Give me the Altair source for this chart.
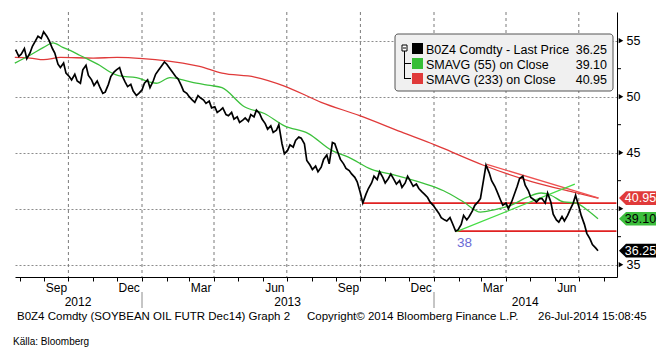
import altair as alt
import pandas as pd

FONT = "Liberation Sans"

# ---------------- data ----------------
# Friday closes 2012-07-27 .. 2014-07-25
fri_dates = [d.strftime("%Y-%m-%d") for d in pd.date_range("2012-07-27", "2014-07-25", freq="7D")]
fri_values = [
    54.2, 53.8, 53.4, 54.5, 55.4, 55.8, 55.0, 53.9, 52.6, 52.1, 51.5, 51.4, 52.4, 51.9,
    51.0, 50.9, 50.4, 51.8, 52.4, 51.9, 50.9, 50.5, 50.3,
    51.2, 50.8, 52.0, 52.7, 52.9, 52.2, 51.6, 50.5, 50.0, 49.5, 49.9, 49.4, 49.0, 48.6,
    49.0, 48.3, 48.0, 47.7, 48.1, 48.4, 48.8, 48.0, 47.1, 46.8, 47.5, 44.9, 45.7, 46.1,
    46.3, 44.3, 43.5, 43.3, 44.4, 44.0, 45.8, 44.4, 43.6, 43.1, 42.4, 40.5, 41.8, 42.9,
    43.3, 42.3, 43.1, 42.2, 41.9, 42.9, 42.0, 41.8, 41.3, 40.6,
    40.0, 39.2, 38.9, 38.7, 38.1, 39.4, 39.3, 40.3, 40.9, 43.9, 42.5, 41.5, 40.3, 40.0,
    41.2, 42.7, 42.1, 41.0, 40.6, 40.9, 41.4, 39.5, 38.8, 38.9, 39.9, 41.2, 39.4, 37.8,
    36.8, 36.25,
]
# Tuesday closes 2012-07-31 .. 2014-07-22
tue_dates = [d.strftime("%Y-%m-%d") for d in pd.date_range("2012-07-31", "2014-07-22", freq="7D")]
tue_values = [
    53.6, 54.3, 53.9, 55.0, 55.2, 55.4, 54.3, 52.9, 53.0, 51.8, 52.0, 51.2, 52.8, 51.5,
    51.4, 50.3, 51.1, 52.2, 52.6, 51.3, 51.1, 50.1, 50.6,
    51.5, 51.4, 52.4, 53.1, 52.5, 51.8, 51.0, 50.3, 49.7, 50.1, 49.7, 49.6, 49.1, 48.8,
    48.4, 48.6, 48.2, 47.9, 47.8, 48.2, 48.5, 47.6, 47.4, 47.0, 45.8, 45.2, 45.5, 46.4,
    45.8, 43.9, 43.8, 43.7, 44.8, 45.9, 45.0, 44.0, 43.4, 42.8, 41.4, 41.3, 42.3, 42.6,
    42.8, 42.7, 42.6, 42.5, 42.3, 42.4, 42.2, 41.5, 41.0, 40.3,
    39.6, 39.0, 39.2, 38.0, 38.6, 39.0, 39.8, 40.6, 42.6, 43.2, 42.0, 40.8, 40.5, 40.6,
    42.0, 42.9, 41.6, 40.8, 40.9, 40.5, 40.6, 39.0, 39.3, 39.4, 40.5, 40.2, 38.6, 37.3,
    36.5,
]

sma55_dates = [
    "2012-07-26", "2012-08-14", "2012-08-31", "2012-09-12", "2012-09-24", "2012-10-07",
    "2012-10-15", "2012-10-24", "2012-11-09", "2012-11-22", "2012-12-04", "2012-12-25",
    "2013-01-11", "2013-01-19", "2013-02-05", "2013-02-21", "2013-03-10", "2013-03-27",
    "2013-04-11", "2013-05-09", "2013-06-03", "2013-06-28", "2013-07-28", "2013-08-26",
    "2013-09-16", "2013-10-15", "2013-11-13", "2013-12-17", "2014-01-13", "2014-02-07",
    "2014-02-28", "2014-03-17", "2014-04-07", "2014-04-27", "2014-05-15", "2014-05-27",
    "2014-06-12", "2014-06-28", "2014-07-11", "2014-07-25",
]
sma55_values = [
    53.0, 53.7, 54.4, 54.8, 54.4, 54.0, 53.7, 53.4, 52.8, 52.2, 51.85, 51.7,
    51.3, 51.2, 51.7, 51.5, 51.2, 51.0, 50.8, 49.1, 48.5, 47.4, 46.7, 45.2,
    44.6, 43.5, 43.0, 42.3, 41.6, 40.6, 39.7, 39.9, 40.3, 41.0, 41.4, 41.2,
    40.6, 40.5, 39.9, 39.10,
]

sma233_dates = [
    "2012-07-26", "2012-08-14", "2012-08-31", "2012-09-21", "2012-11-01", "2012-12-01",
    "2013-01-02", "2013-02-01", "2013-02-21", "2013-03-14", "2013-04-11", "2013-05-22",
    "2013-06-28", "2013-08-13", "2013-09-30", "2013-11-21", "2014-01-02", "2014-01-12",
    "2014-03-03", "2014-05-04", "2014-06-23", "2014-07-25",
]
sma233_values = [
    53.5, 53.45, 53.3, 53.5, 53.45, 53.5, 53.4, 53.2, 53.0, 52.7, 52.1, 51.75,
    50.95, 49.5, 48.3, 46.85, 45.7, 45.4, 43.9, 42.4, 41.5, 40.95,
]

# drawn annotations
red_trend_dates = ["2014-03-08", "2014-07-26"]
red_trend_values = [43.95, 40.95]
green_trend_dates = ["2014-01-29", "2014-06-26"]
green_trend_values = [37.95, 42.2]
hline_starts = ["2013-10-04", "2014-01-28"]
hline_ends = ["2014-08-17", "2014-08-17"]
hline_values = [40.5, 38.0]

grid_dates = ["2012-10-01", "2013-01-01", "2013-04-01", "2013-07-01",
              "2013-10-01", "2014-01-01", "2014-04-01", "2014-07-01"]
month_label_dates = ["2012-09-16", "2012-12-16", "2013-03-16", "2013-06-16",
                     "2013-09-16", "2013-12-16", "2014-03-16", "2014-06-16"]
month_labels = ["Sep", "Dec", "Mar", "Jun", "Sep", "Dec", "Mar", "Jun"]
year_label_dates = ["2012-10-13", "2013-07-02", "2014-04-25"]
year_labels = ["2012", "2013", "2014"]
year_sep_dates = ["2013-01-01", "2014-01-01"]

y_major = [35, 40, 45, 50, 55]
y_minor = [37.5, 42.5, 47.5, 52.5]

legend_names = ["B0Z4 Comdty - Last Price", "SMAVG (55) on Close", "SMAVG (233) on Close"]
legend_values = ["36.25", "39.10", "40.95"]
legend_colors = ["#000000", "#36be36", "#e03a3a"]

tag_values = [40.95, 39.10, 36.25]
tag_fill = ["#e03a3a", "#3cbe3c", "#000000"]
tag_text_color = ["#ffffff", "#000000", "#ffffff"]

# ---------------- scales / axes ----------------
W, H = 602, 265
xscale = alt.Scale(domain=[alt.DateTime(year=2012, month=7, date=26, hours=6),
                           alt.DateTime(year=2014, month=8, date=17, hours=18)])
yscale = alt.Scale(domain=[33.9, 57.56], nice=False, zero=False)

month_ticks = []
for yy in (2012, 2013, 2014):
    for mm in range(1, 13):
        if (yy == 2012 and mm < 8) or (yy == 2014 and mm > 8):
            continue
        month_ticks.append(alt.DateTime(year=yy, month=mm, date=1))

xaxis = alt.Axis(values=month_ticks, labels=False, ticks=True, tickSize=4,
                 tickColor="black", domainColor="black", domainWidth=1,
                 grid=False, title=None)
# the "40" label sits behind the last-value tags in the original
yaxis = alt.Axis(orient="right", values=y_major, grid=True, gridDash=[2, 2],
                 gridColor="#8c8c8c", ticks=False, domainColor="black",
                 labelFont=FONT, labelFontSize=12.5, labelColor="black",
                 labelPadding=9, title=None,
                 labelExpr="datum.value == 40 ? '' : datum.label")


def X(field="date"):
    return alt.X(f"{field}:T", scale=xscale, axis=xaxis, title=None)


def Y(field="value"):
    return alt.Y(f"{field}:Q", scale=yscale, axis=yaxis, title=None)


dummy = pd.DataFrame({"a": [0]})

price_df = pd.concat([
    pd.DataFrame({"date": fri_dates, "value": fri_values}),
    pd.DataFrame({"date": tue_dates, "value": tue_values}),
]).sort_values("date").reset_index(drop=True)
sma55_df = pd.DataFrame({"date": sma55_dates, "value": sma55_values})
sma233_df = pd.DataFrame({"date": sma233_dates, "value": sma233_values})

layers = []

# vertical dotted gridlines
layers.append(alt.Chart(pd.DataFrame({"date": grid_dates})).mark_rule(
    color="#7a7a7a", strokeDash=[3, 3], strokeWidth=1).encode(x=X()))

# horizontal support lines
layers.append(alt.Chart(pd.DataFrame({"date": hline_starts, "end": hline_ends, "value": hline_values}))
              .mark_rule(color="#e02222", strokeWidth=1.6)
              .encode(x=X(), x2=alt.X2("end:T"), y=Y()))

# moving averages
layers.append(alt.Chart(sma233_df).mark_line(color="#e03a3a", strokeWidth=1.3, interpolate="monotone")
              .encode(x=X(), y=Y()))
layers.append(alt.Chart(sma55_df).mark_line(color="#3cc13c", strokeWidth=1.3, interpolate="monotone")
              .encode(x=X(), y=Y()))

# trendlines
layers.append(alt.Chart(pd.DataFrame({"date": red_trend_dates, "value": red_trend_values}))
              .mark_line(color="#ee5050", strokeWidth=1.3).encode(x=X(), y=Y()))
layers.append(alt.Chart(pd.DataFrame({"date": green_trend_dates, "value": green_trend_values}))
              .mark_line(color="#44dd44", strokeWidth=1.3).encode(x=X(), y=Y()))

# price
layers.append(alt.Chart(price_df).mark_line(color="black", strokeWidth=1.7)
              .encode(x=X(), y=Y()))

# "38" label
layers.append(alt.Chart(pd.DataFrame({"date": ["2014-02-08"], "value": [36.94], "t": ["38"]}))
              .mark_text(font=FONT, fontSize=13.5, color="#6b6bd6", baseline="middle")
              .encode(x=X(), y=Y(), text="t:N"))

# right axis minor ticks and arrow ticks
layers.append(alt.Chart(pd.DataFrame({"value": y_minor})).mark_rule(color="black")
              .encode(x=alt.value(W), x2=alt.value(W + 4), y=Y()))
layers.append(alt.Chart(pd.DataFrame({"value": y_major})).mark_point(
    shape="triangle-right", filled=True, size=28, color="black", opacity=1)
    .encode(x=alt.value(W + 4), y=Y()))

# last-value tags
tag_df = pd.DataFrame({"value": tag_values, "fill": tag_fill, "tc": tag_text_color,
                       "label": [f"{v:.2f}" for v in tag_values]})
tag_shape = "M-1,0L-0.62,-0.37L1,-0.37L1,0.37L-0.62,0.37Z"
layers.append(alt.Chart(tag_df).mark_point(shape=tag_shape, size=1369, filled=True,
                                           opacity=1, strokeWidth=0)
              .encode(x=alt.value(W + 20.5), y=Y(), color=alt.Color("fill:N", scale=None)))
layers.append(alt.Chart(tag_df).mark_text(font=FONT, fontSize=12.5, align="center", baseline="middle")
              .encode(x=alt.value(W + 23.5), y=Y(), text="label:N",
                      color=alt.Color("tc:N", scale=None)))

# x labels
layers.append(alt.Chart(pd.DataFrame({"date": month_label_dates, "t": month_labels}))
              .mark_text(font=FONT, fontSize=12, color="black", baseline="middle")
              .encode(x=X(), y=alt.value(H + 10.5), text="t:N"))
layers.append(alt.Chart(pd.DataFrame({"date": year_label_dates, "t": year_labels}))
              .mark_text(font=FONT, fontSize=12, color="black", baseline="middle")
              .encode(x=X(), y=alt.value(H + 25), text="t:N"))
layers.append(alt.Chart(pd.DataFrame({"date": year_sep_dates})).mark_rule(color="#8c8c8c")
              .encode(x=X(), y=alt.value(H + 15), y2=alt.value(H + 31)))

# footer
footer = [("B0Z4 Comdty (SOYBEAN OIL FUTR  Dec14) Graph 2", 2),
          ("Copyright\u00a9 2014 Bloomberg Finance L.P.", 292),
          ("26-Jul-2014 15:08:45", 523)]
for txt, xx in footer:
    layers.append(alt.Chart(dummy).mark_text(font=FONT, fontSize=11.5, color="black",
                                             align="left", baseline="middle")
                  .encode(x=alt.value(xx), y=alt.value(H + 40), text=alt.value(txt)))
layers.append(alt.Chart(dummy).mark_text(font=FONT, fontSize=10, color="black",
                                         align="left", baseline="middle")
              .encode(x=alt.value(-2), y=alt.value(H + 65), text=alt.value("K\u00e4lla: Bloomberg")))

# legend box
layers.append(alt.Chart(dummy).mark_rect(fill="#f0f0f0", stroke="#555555", strokeWidth=1,
                                         cornerRadius=3)
              .encode(x=alt.value(380), x2=alt.value(598), y=alt.value(22), y2=alt.value(79)))
# tree icon
layers.append(alt.Chart(dummy).mark_rule(color="black")
              .encode(x=alt.value(389.5), y=alt.value(39), y2=alt.value(67)))
for yy in (51.5, 66.5):
    layers.append(alt.Chart(dummy).mark_rule(color="black")
                  .encode(x=alt.value(389.5), x2=alt.value(396), y=alt.value(yy)))
layers.append(alt.Chart(dummy).mark_rect(fill="white", stroke="black", strokeWidth=1)
              .encode(x=alt.value(387), x2=alt.value(392), y=alt.value(33), y2=alt.value(39)))
layers.append(alt.Chart(dummy).mark_rule(color="black")
              .encode(x=alt.value(388), x2=alt.value(391), y=alt.value(36)))

for i, (nm, val, col) in enumerate(zip(legend_names, legend_values, legend_colors)):
    cy = 36.5 + 15 * i
    layers.append(alt.Chart(dummy).mark_rect(fill=col)
                  .encode(x=alt.value(397), x2=alt.value(408),
                          y=alt.value(cy - 5.5), y2=alt.value(cy + 5.5)))
    layers.append(alt.Chart(dummy).mark_text(font=FONT, fontSize=12.5, color="black",
                                             align="left", baseline="middle")
                  .encode(x=alt.value(411), y=alt.value(cy + 1), text=alt.value(nm)))
    layers.append(alt.Chart(dummy).mark_text(font=FONT, fontSize=12.5, color="black",
                                             align="right", baseline="middle")
                  .encode(x=alt.value(592), y=alt.value(cy + 1), text=alt.value(val)))

chart = alt.layer(*layers).properties(
    width=W, height=H,
    autosize=alt.AutoSizeParams(type="none"),
    padding={"left": 15, "top": 12, "right": 49, "bottom": 76},
    background="white",
).configure_view(stroke=None)

chart.save("out.html", embed_options={"renderer": "svg", "actions": False})
